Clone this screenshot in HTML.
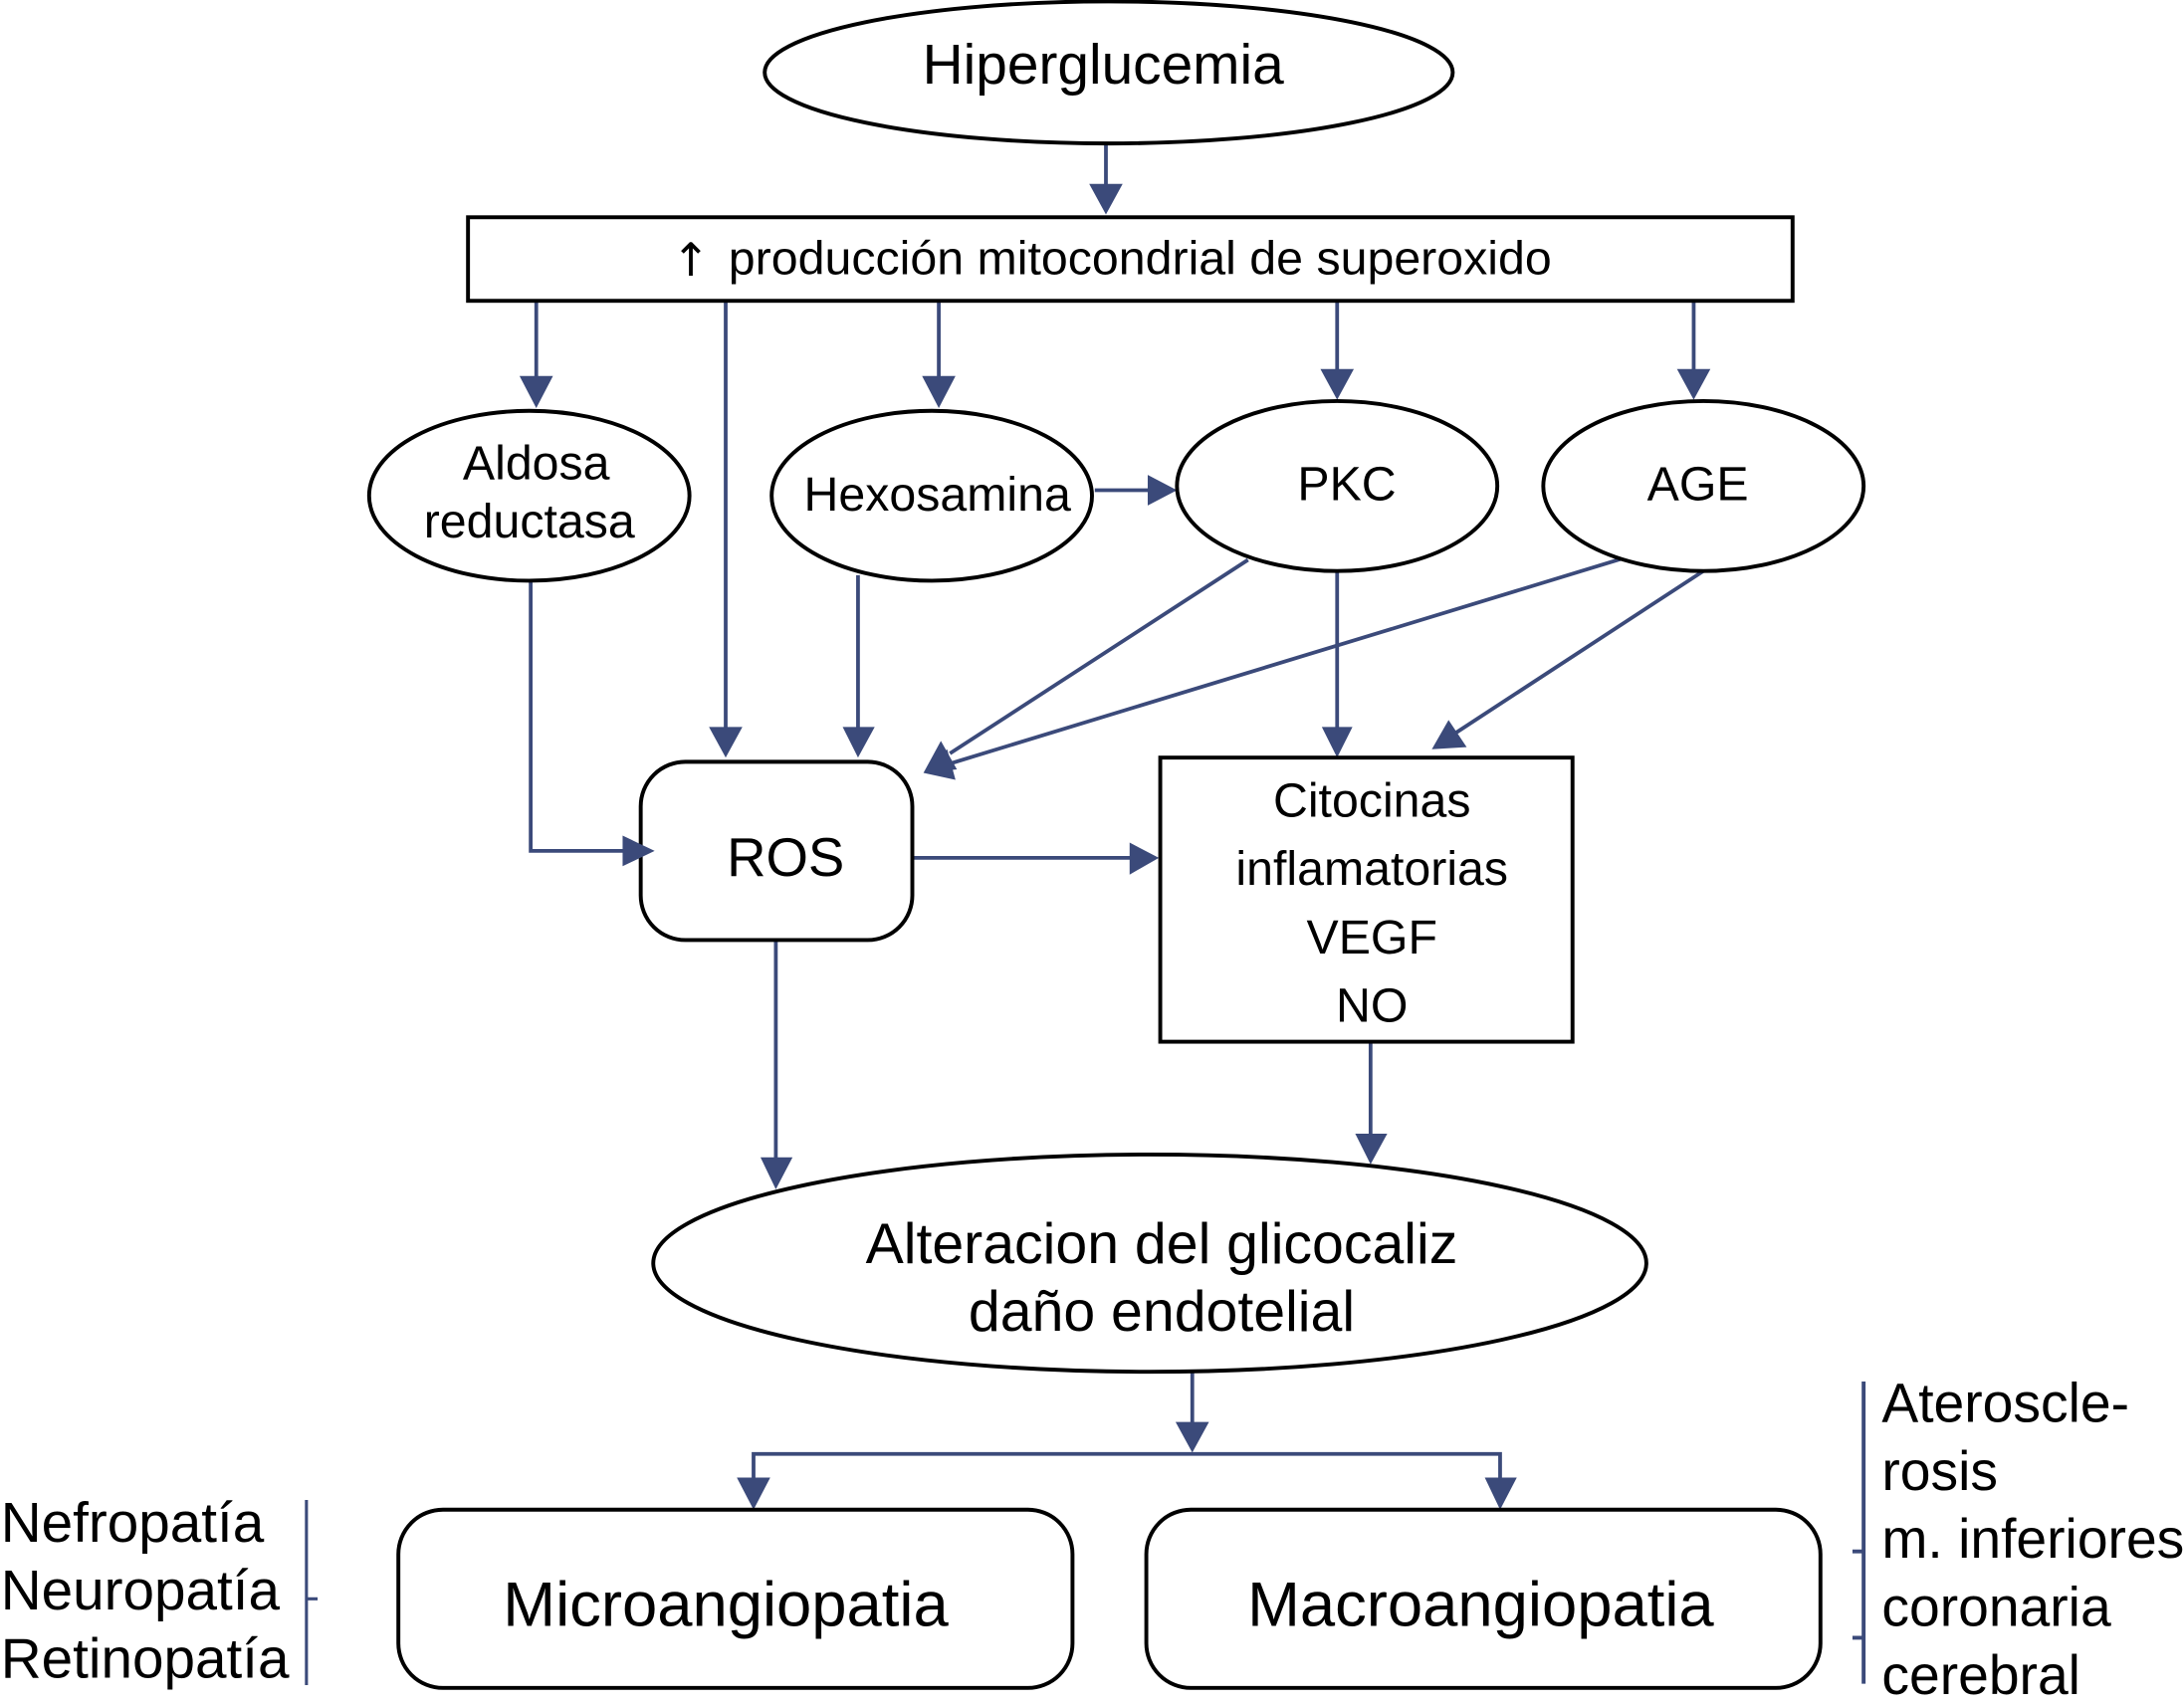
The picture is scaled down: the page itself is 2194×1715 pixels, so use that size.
<!DOCTYPE html>
<html><head><meta charset="utf-8"><style>
html,body{margin:0;padding:0;background:#fff;width:2194px;height:1715px;overflow:hidden}
svg{display:block}
text{font-family:"Liberation Sans",sans-serif;fill:#000;text-anchor:middle}
.s{fill:#fff;stroke:#000;stroke-width:2.8}
.c{fill:none;stroke:#3b4a7a;stroke-width:2.7}
.a{fill:#3b4a7a;stroke:none}
</style></head><body>
<svg width="2194" height="1715" viewBox="0 0 1568 1225.7" xmlns="http://www.w3.org/2000/svg">
<rect width="1568" height="1226" fill="#fff"/>
<!-- connectors -->
<g class="c">
<path d="M794 104V134"/>
<path d="M385 216V272"/><path d="M521 216V523"/><path d="M674 216V272"/><path d="M960 216V266"/><path d="M1216 216V266"/>
<path d="M786 352H826"/>
<path d="M381 417V611H448"/>
<path d="M616 413V523"/>
<path d="M896 402L682 541"/>
<path d="M1165 401L683 548"/>
<path d="M960 409V523"/>
<path d="M1223 410L1044 527"/>
<path d="M655 616H812"/>
<path d="M557 675V832"/>
<path d="M984 748V815"/>
<path d="M856 985V1023"/>
<path d="M541 1062V1044H1077V1062"/>
<path d="M220 1077V1210M220 1148H228" stroke-width="2.2"/>
<path d="M1338 992V1209M1330 1114H1338M1330 1176H1338" stroke-width="2.8"/>
</g>
<!-- arrowheads -->
<g class="a">
<polygon points="782,132 806,132 794,154"/>
<polygon points="373,270 397,270 385,293"/>
<polygon points="509,522 533,522 521,544"/>
<polygon points="662,270 686,270 674,293"/>
<polygon points="948,265 972,265 960,287"/>
<polygon points="1204,265 1228,265 1216,287"/>
<polygon points="824,341 824,363 845,352"/>
<polygon points="605,522 628,522 616,544"/>
<polygon points="675.500,532 687,552.500 663,555"/>
<polygon points="680,538 686,560 663,555"/>
<polygon points="949,522 971,522 960,544"/>
<polygon points="1040,517 1053,536.500 1028,538"/>
<polygon points="811,605 811,628 832,616"/>
<polygon points="546,831 569,831 557,854"/>
<polygon points="973,814 996,814 984,836"/>
<polygon points="844,1021 868,1021 856,1043"/>
<polygon points="529,1061 553,1061 541,1084"/>
<polygon points="1066,1061 1089,1061 1077,1084"/>
</g>
<!-- shapes -->
<ellipse class="s" cx="796" cy="52" rx="247" ry="51"/>
<rect class="s" x="336" y="156" width="951" height="60"/>
<ellipse class="s" cx="380" cy="356" rx="115" ry="61"/>
<ellipse class="s" cx="669" cy="356" rx="115" ry="61"/>
<ellipse class="s" cx="960" cy="349" rx="115" ry="61"/>
<ellipse class="s" cx="1223" cy="349" rx="115" ry="61"/>
<rect class="s" x="460" y="547" width="195" height="128" rx="32" ry="32"/>
<rect class="s" x="833" y="544" width="296" height="204"/>
<ellipse class="s" cx="825.500" cy="907" rx="356.500" ry="78"/>
<rect class="s" x="286" y="1084" width="484" height="128" rx="32" ry="32"/>
<rect class="s" x="823" y="1084" width="484" height="128" rx="32" ry="32"/>
<polygon class="a" points="447,600 447,622 470,611"/>
<!-- text -->
<text x="792" y="60" font-size="40.600">Hiperglucemia</text>
<text x="496" y="198" font-size="33" style="font-family:'DejaVu Sans',sans-serif">↑</text>
<text x="523" y="197" font-size="34" textLength="591" lengthAdjust="spacingAndGlyphs" style="text-anchor:start">producción mitocondrial de superoxido</text>
<text x="385" y="344" font-size="34.500">Aldosa</text>
<text x="380" y="386" font-size="34.500">reductasa</text>
<text x="673" y="366.500" font-size="34.500">Hexosamina</text>
<text x="967" y="359" font-size="34.500">PKC</text>
<text x="1219" y="359" font-size="34.500">AGE</text>
<text x="564" y="629" font-size="39">ROS</text>
<text x="985" y="586.500" font-size="34.500">Citocinas</text>
<text x="985" y="635.500" font-size="34.500">inflamatorias</text>
<text x="985" y="684.500" font-size="34.500">VEGF</text>
<text x="985" y="733.500" font-size="34.500">NO</text>
<text x="834" y="907" font-size="40.900">Alteracion del glicocaliz</text>
<text x="834" y="955.500" font-size="40.900">daño endotelial</text>
<text x="521" y="1167.500" font-size="45.300">Microangiopatia</text>
<text x="1063" y="1167.500" font-size="45.300">Macroangiopatia</text>
<text x="0.500" y="1107" font-size="40.500" style="text-anchor:start">Nefropatía</text>
<text x="0.500" y="1155.500" font-size="40.500" style="text-anchor:start">Neuropatía</text>
<text x="0.500" y="1204.500" font-size="40.500" style="text-anchor:start">Retinopatía</text>
<text x="1351" y="1021" font-size="39.500" style="text-anchor:start">Ateroscle-</text>
<text x="1351" y="1070" font-size="39.500" style="text-anchor:start">rosis</text>
<text x="1351" y="1118.500" font-size="39.500" style="text-anchor:start">m. inferiores</text>
<text x="1351" y="1167.500" font-size="39.500" style="text-anchor:start">coronaria</text>
<text x="1351" y="1216.500" font-size="39.500" style="text-anchor:start">cerebral</text>
</svg>
</body></html>
